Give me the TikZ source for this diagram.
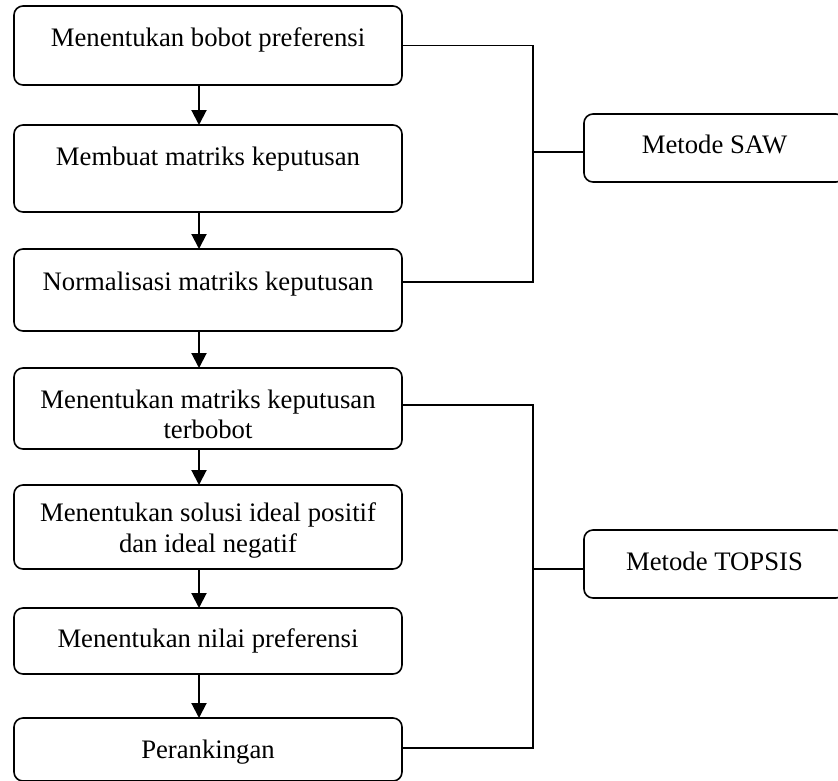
\documentclass[tikz,border=0pt]{standalone}
\usepackage{fontspec}
\setmainfont{Liberation Serif}
\usetikzlibrary{arrows.meta, positioning}

\begin{document}
\begin{tikzpicture}[
    node distance=40pt,
    stepbox/.style={rectangle, draw, line width=1.6pt, rounded corners=9pt, minimum width=388pt, inner sep=0pt, outer sep=0pt},
    methodbox/.style={rectangle, draw, line width=1.6pt, rounded corners=9pt, minimum width=261pt, minimum height=68pt, inner sep=0pt, outer sep=0pt},
    steptext/.style={anchor=north, yshift=-#1, align=center, inner sep=0pt, font=\fontsize{26.7}{30.5}\selectfont},
    steptext/.default=21.5pt,
    arrow/.style={-{Triangle[length=15pt, width=15pt]}, line width=2pt},
    link/.style={line width=1.2pt}
]
\useasboundingbox (0,0) rectangle (838pt,-780pt);

% langkah SAW dan TOPSIS
\node[stepbox, minimum height=79pt, label={[steptext]north:Menentukan bobot preferensi}] (pref) at (208pt,-45.5pt) {};
\node[stepbox, minimum height=87pt, below=40pt of pref, label={[steptext]north:Membuat matriks keputusan}] (decmat) {};
\node[stepbox, minimum height=82pt, below=37pt of decmat, label={[steptext=22.5pt]north:Normalisasi matriks keputusan}] (norm) {};
\node[stepbox, minimum height=81pt, below=37pt of norm, label={[steptext]north:Menentukan matriks keputusan\\terbobot}] (weighted) {};
\node[stepbox, minimum height=84pt, below=36pt of weighted, label={[steptext=17.5pt]north:Menentukan solusi ideal positif\\dan ideal negatif}] (ideal) {};
\node[stepbox, minimum height=66pt, below=39pt of ideal, label={[steptext=20.5pt]north:Menentukan nilai preferensi}] (value) {};
\node[stepbox, minimum height=63pt, below=44pt of value, label={[steptext]north:Perankingan}] (rank) {};

% metode
\node[methodbox, label={[steptext=20.5pt]north:Metode SAW}] (saw) at (714.5pt,-148pt) {};
\node[methodbox, label={[steptext]north:Metode TOPSIS}] (topsis) at (714.5pt,-564pt) {};

% panah antar langkah
\draw[arrow] ([xshift=-9pt]pref.south) -- ([xshift=-9pt]decmat.north);
\draw[arrow] ([xshift=-9pt]decmat.south) -- ([xshift=-9pt]norm.north);
\draw[arrow] ([xshift=-9pt]norm.south) -- ([xshift=-9pt]weighted.north);
\draw[arrow] ([xshift=-9pt]weighted.south) -- ([xshift=-9pt]ideal.north);
\draw[arrow] ([xshift=-9pt]ideal.south) -- ([xshift=-9pt]value.north);
\draw[arrow] ([xshift=-9pt]value.south) -- ([xshift=-9pt]rank.north);

% kurung penghubung
\coordinate (sawjoin) at ([xshift=-51pt, yshift=-4pt]saw.west);
\coordinate (topsisjoin) at ([xshift=-51pt, yshift=-5pt]topsis.west);
\draw[link] (pref.east) -| (sawjoin) |- ([yshift=8pt]norm.east);
\draw[link] (sawjoin) -- (sawjoin -| saw.west);
\draw[link] ([yshift=3.5pt]weighted.east) -| (topsisjoin) |- ([yshift=1.5pt]rank.east);
\draw[link] (topsisjoin) -- (topsisjoin -| topsis.west);
\end{tikzpicture}
\end{document}
